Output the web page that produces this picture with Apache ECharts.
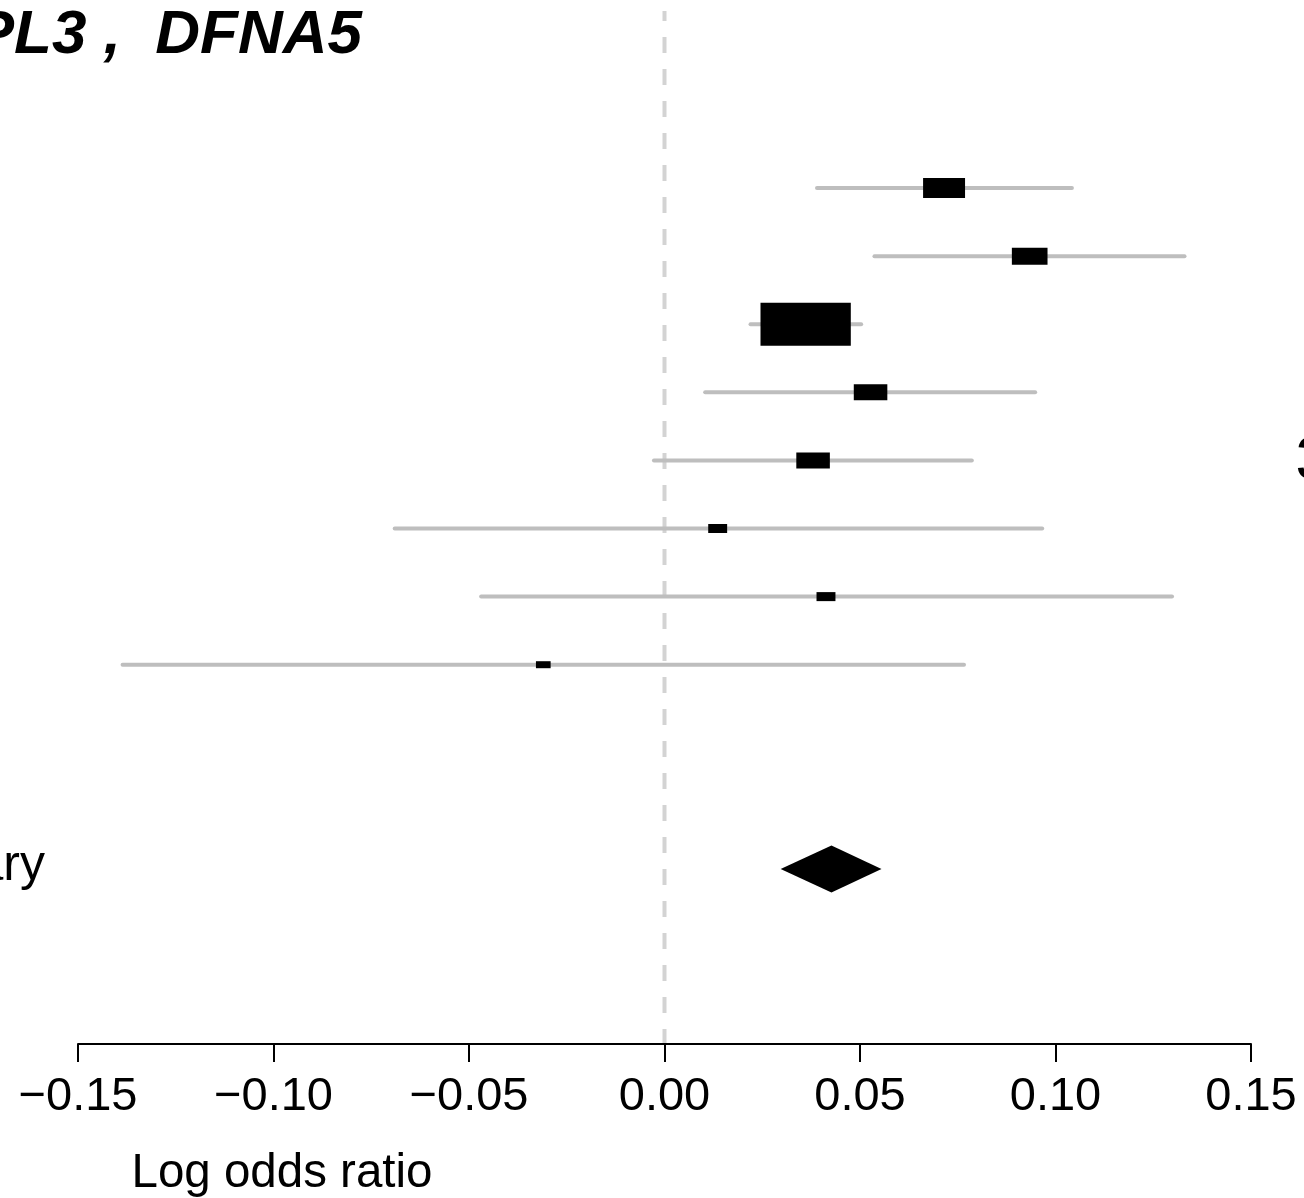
<!DOCTYPE html>
<html>
<head>
<meta charset="utf-8">
<script src="https://cdn.jsdelivr.net/npm/echarts@6/dist/echarts.min.js"></script>
<style>
html,body{margin:0;padding:0;background:#fff;}
#chart{width:1304px;height:1198px;}
</style>
</head>
<body>
<div id="chart"></div>
<script>
// ---- data ----
const rowIndex  = [1, 2, 3, 4, 5, 6, 7, 8];
const estimates = [0.0715, 0.0934, 0.0361, 0.0527, 0.0380, 0.0136, 0.0413, -0.0310];
const lower     = [0.0390, 0.0537, 0.0220, 0.0104, -0.0027, -0.0690, -0.0469, -0.1386];
const upper     = [0.1042, 0.1330, 0.0503, 0.0948, 0.0786, 0.0966, 0.1298, 0.0766];
const weights   = [21.6, 15.6, 100, 13.8, 13.8, 4.4, 4.4, 2.65]; // relative study weights
const summaryRow = [11];
const summaryEst = [0.0427];
const summaryLo  = [0.0297];
const summaryHi  = [0.0555];
const xTickMin = -0.15, xTickMax = 0.15, xTickStep = 0.05;
const titleText = 'PL3 ,  DFNA5';
const summaryLabel = 'Summary';
const xAxisTitle = 'Log odds ratio';

const FONT = '"Liberation Sans", Arial, Helvetica, sans-serif';
const YMIN = -1.6, YMAX = 13.57;

const studyData = rowIndex.map((r, i) => [estimates[i], r, lower[i], upper[i], weights[i]]);
const summaryData = summaryRow.map((r, i) => [summaryEst[i], r, summaryLo[i], summaryHi[i]]);

const chart = echarts.init(document.getElementById('chart'), null, {renderer: 'canvas'});

const option = {
  backgroundColor: '#ffffff',
  animation: false,
  grid: {left: 78, right: 53, top: 11, height: 1033, containLabel: false},
  xAxis: {
    type: 'value',
    min: xTickMin, max: xTickMax, interval: xTickStep,
    position: 'bottom',
    splitLine: {show: false},
    axisLine: {show: true, onZero: false, lineStyle: {color: '#000', width: 2}},
    axisTick: {show: true, length: 18, lineStyle: {color: '#000', width: 2}},
    axisLabel: {
      show: true, margin: 30, fontSize: 47, color: '#000', fontFamily: FONT,
      showMinLabel: true, showMaxLabel: true,
      formatter: v => (v < -1e-9 ? '\u2212' : '') + Math.abs(v).toFixed(2)
    }
  },
  yAxis: {
    type: 'value', inverse: true, min: YMIN, max: YMAX,
    show: false, splitLine: {show: false}
  },
  series: [
    {
      type: 'custom',
      name: 'ref',
      data: [[0]],
      clip: false,
      z: 1,
      renderItem: function (params, api) {
        const top = api.coord([0, YMIN]);
        const bot = api.coord([0, YMAX]);
        return {
          type: 'line',
          shape: {x1: top[0], y1: top[1], x2: bot[0], y2: bot[1] - 1},
          style: {stroke: '#d3d3d3', lineWidth: 4, lineDash: [16, 16], lineDashOffset: 6}
        };
      }
    },
    {
      type: 'custom',
      name: 'studies',
      data: studyData,
      clip: false,
      z: 3,
      renderItem: function (params, api) {
        const est = api.value(0), row = api.value(1), lo = api.value(2), hi = api.value(3), w = api.value(4);
        const c = api.coord([est, row]);
        const pl = api.coord([lo, row]);
        const ph = api.coord([hi, row]);
        const h = 43 * Math.sqrt(w / 100);
        const bw = h * 2.1;
        return {
          type: 'group',
          children: [
            {type: 'line', shape: {x1: pl[0], y1: pl[1], x2: ph[0], y2: ph[1]},
             style: {stroke: '#bebebe', lineWidth: 4, lineCap: 'round'}},
            {type: 'rect', shape: {x: c[0] - bw / 2, y: c[1] - h / 2, width: bw, height: h},
             style: {fill: '#000'}}
          ]
        };
      }
    },
    {
      type: 'custom',
      name: 'summary',
      data: summaryData,
      clip: false,
      z: 3,
      renderItem: function (params, api) {
        const est = api.value(0), row = api.value(1), lo = api.value(2), hi = api.value(3);
        const c = api.coord([est, row]);
        const pl = api.coord([lo, row]);
        const ph = api.coord([hi, row]);
        const hh = 23.5;
        return {
          type: 'polygon',
          shape: {points: [[pl[0], c[1]], [c[0], c[1] - hh], [ph[0], c[1]], [c[0], c[1] + hh]]},
          style: {fill: '#000'}
        };
      }
    }
  ],
  graphic: [
    {type: 'text', x: 362, y: 36,
     style: {text: titleText, fill: '#000', font: 'italic bold 62px ' + FONT, align: 'right', verticalAlign: 'middle'}},
    {type: 'text', x: 45, y: 866,
     style: {text: summaryLabel, fill: '#000', font: '50px ' + FONT, align: 'right', verticalAlign: 'middle'}},
    {type: 'text', x: 282, y: 1174,
     style: {text: xAxisTitle, fill: '#000', font: '47.5px ' + FONT, align: 'center', verticalAlign: 'middle'}},
    {type: 'text', x: 1295.5, y: 461.5,
     style: {text: '3', fill: '#000', font: '62px ' + FONT, align: 'left', verticalAlign: 'middle'}}
  ]
};
chart.setOption(option);
</script>
</body>
</html>
